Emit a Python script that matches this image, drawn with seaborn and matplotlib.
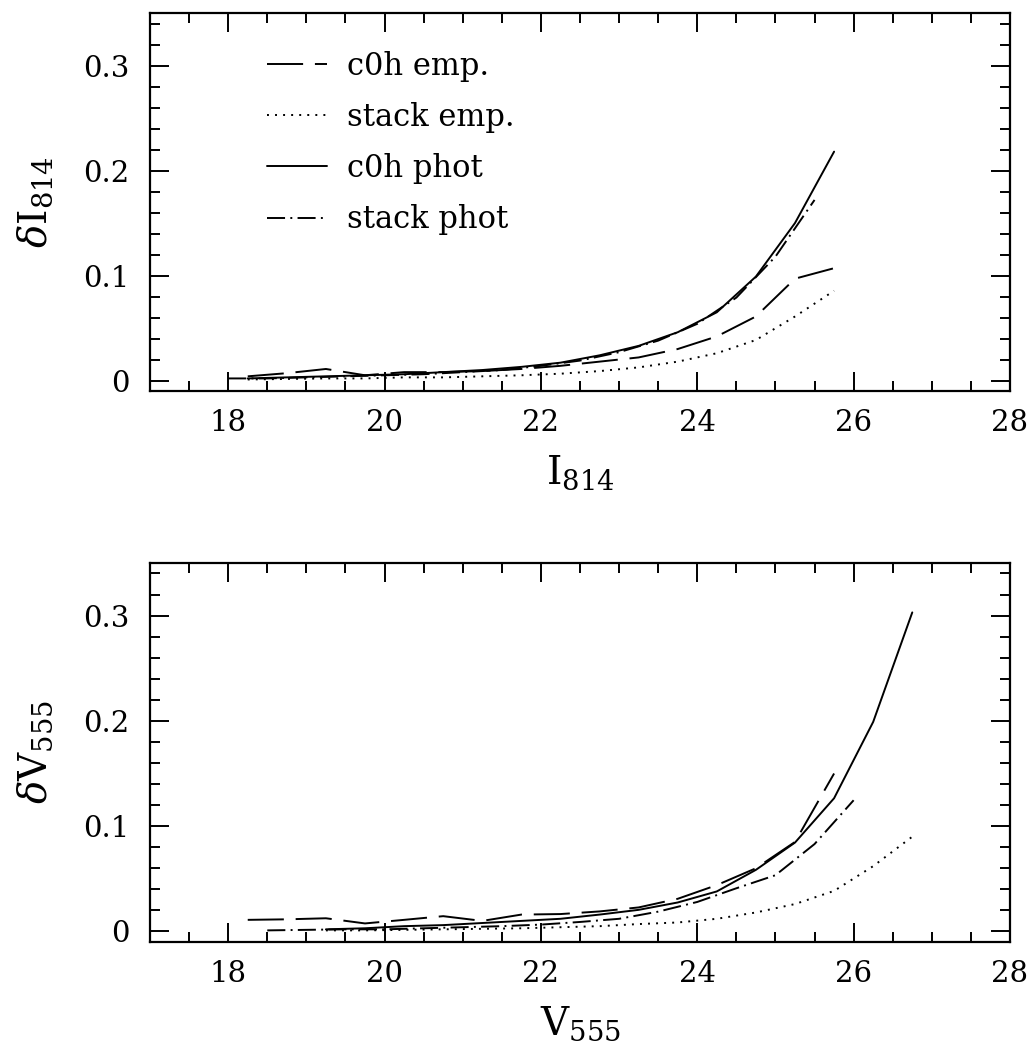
import matplotlib
matplotlib.use("Agg")
import matplotlib.pyplot as plt
from matplotlib.ticker import MultipleLocator, FuncFormatter
import seaborn as sns
import pandas as pd

# ---- photometric error curves, I814 band ----
i_c0h_emp_x = [18.25, 18.75, 19.25, 19.75, 20.25, 20.75, 21.25, 21.75,
               22.25, 22.75, 23.25, 23.75, 24.25, 24.75, 25.25, 25.75]
i_c0h_emp_y = [0.004, 0.007, 0.011, 0.005, 0.008, 0.008, 0.009, 0.011,
               0.014, 0.018, 0.022, 0.030, 0.042, 0.061, 0.097, 0.107]

i_stack_emp_x = [18.25, 18.75, 19.25, 19.75, 20.25, 20.75, 21.25, 21.75,
                 22.25, 22.75, 23.25, 23.75, 24.25, 24.75, 25.25, 25.75]
i_stack_emp_y = [0.001, 0.0015, 0.002, 0.002, 0.003, 0.003, 0.004, 0.005,
                 0.0065, 0.009, 0.0125, 0.018, 0.026, 0.0386, 0.061, 0.0855]

i_c0h_phot_x = [18.25, 18.75, 19.25, 19.75, 20.25, 20.75, 21.25, 21.75,
                22.25, 22.75, 23.25, 23.75, 24.25, 24.75, 25.25, 25.75]
i_c0h_phot_y = [0.002, 0.003, 0.004, 0.005, 0.006, 0.008, 0.010, 0.013,
                0.017, 0.024, 0.033, 0.046, 0.065, 0.099, 0.150, 0.218]

i_stack_phot_x = [18.0, 18.5, 19.0, 19.5, 20.0, 20.5, 21.0, 21.5,
                  22.0, 22.5, 23.0, 23.5, 24.0, 24.5, 25.0, 25.5]
i_stack_phot_y = [0.002, 0.002, 0.003, 0.004, 0.005, 0.006, 0.008, 0.010,
                  0.014, 0.019, 0.027, 0.038, 0.054, 0.079, 0.118, 0.172]

# ---- photometric error curves, V555 band ----
v_c0h_emp_x = [18.25, 18.75, 19.25, 19.75, 20.25, 20.75, 21.25, 21.75,
               22.25, 22.75, 23.25, 23.75, 24.25, 24.75, 25.25, 25.75]
v_c0h_emp_y = [0.011, 0.0115, 0.0125, 0.0076, 0.011, 0.0145, 0.010, 0.016,
               0.0165, 0.019, 0.0228, 0.031, 0.044, 0.060, 0.085, 0.150]

v_stack_emp_x = [19.25, 19.75, 20.25, 20.75, 21.25, 21.75, 22.25, 22.75,
                 23.25, 23.75, 24.25, 24.75, 25.25, 25.75, 26.25, 26.75]
v_stack_emp_y = [0.001, 0.001, 0.0015, 0.002, 0.0025, 0.003, 0.004, 0.005,
                 0.007, 0.0085, 0.012, 0.018, 0.026, 0.0385, 0.062, 0.090]

v_c0h_phot_x = [19.25, 19.75, 20.25, 20.75, 21.25, 21.75, 22.25, 22.75,
                23.25, 23.75, 24.25, 24.75, 25.25, 25.75, 26.25, 26.75]
v_c0h_phot_y = [0.002, 0.003, 0.005, 0.006, 0.008, 0.010, 0.012, 0.016,
                0.0205, 0.0275, 0.038, 0.0585, 0.0844, 0.1265, 0.199, 0.303]

v_stack_phot_x = [18.5, 19.0, 19.5, 20.0, 20.5, 21.0, 21.5, 22.0,
                  22.5, 23.0, 23.5, 24.0, 24.5, 25.0, 25.5, 26.0]
v_stack_phot_y = [0.001, 0.0015, 0.002, 0.002, 0.003, 0.004, 0.005, 0.0065,
                  0.009, 0.012, 0.0188, 0.028, 0.041, 0.0534, 0.083, 0.1246]

series_names = ["c0h emp.", "stack emp.", "c0h phot", "stack phot"]
x_ticks = [18, 20, 22, 24, 26, 28]
y_ticks = [0, 0.1, 0.2, 0.3]

sns.set_style("ticks")
plt.rcParams["font.family"] = ["DejaVu Serif"]
plt.rcParams["mathtext.fontset"] = "dejavuserif"
plt.rcParams["lines.scale_dashes"] = False
for key in ["text.color", "axes.labelcolor", "xtick.color", "ytick.color",
            "axes.edgecolor"]:
    plt.rcParams[key] = "black"

line_styles = {
    "c0h emp.": (0, (26, 8.5)),
    "stack emp.": (0, (1.4, 4.4)),
    "c0h phot": "-",
    "stack phot": (0, (13, 3.8, 1.4, 3.8)),
}

fig = plt.figure(figsize=(10.36, 10.52), dpi=100)
ax_top = fig.add_axes([0.1448, 0.6283, 0.8301, 0.3593])
ax_bot = fig.add_axes([0.1448, 0.1046, 0.8301, 0.3603])


def draw_panel(ax, curves):
    for name, (xs, ys) in zip(series_names, curves):
        df = pd.DataFrame({"mag": xs, "err": ys})
        sns.lineplot(data=df, x="mag", y="err", ax=ax, color="black",
                     linewidth=1.4, linestyle=line_styles[name],
                     estimator=None, sort=False, legend=False)
    ax.set_xlim(17, 28)
    ax.set_ylim(-0.01, 0.35)
    ax.set_xticks(x_ticks)
    ax.set_yticks(y_ticks)
    ax.xaxis.set_minor_locator(MultipleLocator(0.5))
    ax.yaxis.set_minor_locator(MultipleLocator(0.02))
    ax.yaxis.set_major_formatter(
        FuncFormatter(lambda v, p: "0" if abs(v) < 1e-9 else f"{v:.1f}"))
    ax.tick_params(which="both", direction="in", top=True, right=True,
                   colors="black", width=1.4)
    ax.tick_params(which="major", length=14, labelsize=21)
    ax.tick_params(which="minor", length=7)
    ax.tick_params(axis="x", which="major", pad=13)
    ax.tick_params(axis="y", which="major", pad=15)
    for sp in ax.spines.values():
        sp.set_linewidth(1.6)
        sp.set_color("black")
        sp.set_visible(True)


draw_panel(ax_top, [(i_c0h_emp_x, i_c0h_emp_y), (i_stack_emp_x, i_stack_emp_y),
                    (i_c0h_phot_x, i_c0h_phot_y), (i_stack_phot_x, i_stack_phot_y)])
draw_panel(ax_bot, [(v_c0h_emp_x, v_c0h_emp_y), (v_stack_emp_x, v_stack_emp_y),
                    (v_c0h_phot_x, v_c0h_phot_y), (v_stack_phot_x, v_stack_phot_y)])

ax_top.set_xlabel(r"$\mathrm{I}_{814}$", fontsize=28, labelpad=12)
ax_top.set_ylabel(r"$\delta\mathrm{I}_{814}$", fontsize=28, labelpad=20)
ax_bot.set_xlabel(r"$\mathrm{V}_{555}$", fontsize=28, labelpad=12)
ax_bot.set_ylabel(r"$\delta\mathrm{V}_{555}$", fontsize=28, labelpad=20)

ax_top.legend(handles=list(ax_top.lines), labels=series_names,
              loc="upper left", bbox_to_anchor=(0.136, 0.9),
              frameon=False, fontsize=22, handlelength=1.96,
              handletextpad=0.66, labelspacing=0.66, borderpad=0,
              borderaxespad=0)

fig.savefig("out.png", dpi=100)
